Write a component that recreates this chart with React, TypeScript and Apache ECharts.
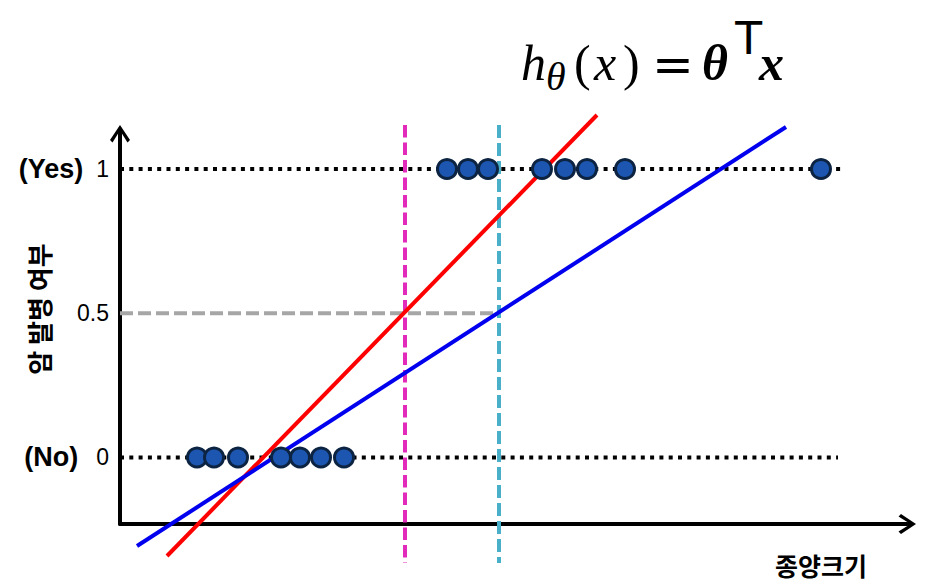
import React, { useEffect, useRef } from "react";
import * as echarts from "echarts";

// ---- data (x in arbitrary size units, y = probability of cancer) ----
const noX = [7.7, 9.4, 11.8, 16.1, 18.0, 20.1, 22.4];
const yesX = [32.7, 34.8, 36.8, 42.2, 44.5, 46.7, 50.5, 70.1];
const redLine = [[4.7, -0.3414], [47.7, 1.1872]];
const blueLine = [[1.7, -0.3068], [66.6, 1.1456]];
const pinkX = 28.5;
const cyanX = 37.9;
const vTop = 1.1525;
const vBottom = -0.3657;
const dottedYesEnd = 72.5;
const dottedNoEnd = 71.8;
const yTicks = [0, 0.5, 1];
const xMin = 0;
const xMax = 78.7;
const yMin = -0.2305;
const yMax = 1.1213;

const chevron =
  "path://M10,0 L20,15 L17.5,17.5 L10,5.5 L2.5,17.5 L0,15 Z M8.4,2 L11.6,2 L11.6,18 L8.4,18 Z";

const SANS = "'Liberation Sans', Arial, sans-serif";
const SERIF = "'Liberation Serif', 'DejaVu Serif', serif";

function glyph(text: string, x: number, y: number, size: number, style: string, weight: string, family: string) {
  return {
    type: "text",
    x,
    y,
    style: {
      text,
      fontSize: size,
      fontStyle: style,
      fontWeight: weight,
      fontFamily: family,
      fill: "#000",
      align: "left",
      verticalAlign: "middle",
    },
  };
}

export default function App() {
  const ref = useRef<HTMLDivElement>(null);
  useEffect(() => {
    if (!ref.current) return;
    const chart = echarts.init(ref.current, null, { renderer: "svg" });
    const option: any = {
      animation: false,
      backgroundColor: "#ffffff",
      grid: { left: 120, right: 24, top: 134, bottom: 58, containLabel: false },
      xAxis: {
        type: "value",
        min: xMin,
        max: xMax,
        axisLine: {
          show: true,
          onZero: false,
          symbol: ["none", chevron],
          symbolSize: [20, 18],
          lineStyle: { color: "#000", width: 4 },
        },
        axisTick: { show: false },
        axisLabel: { show: false },
        splitLine: { show: false },
      },
      yAxis: {
        type: "value",
        min: yMin,
        max: yMax,
        axisLine: {
          show: true,
          onZero: false,
          symbol: ["none", chevron],
          symbolSize: [20, 18],
          lineStyle: { color: "#000", width: 4 },
        },
        axisTick: { show: false },
        splitLine: { show: false },
        axisLabel: {
          show: true,
          customValues: yTicks,
          margin: 11,
          fontSize: 23,
          fontFamily: SANS,
          color: "#000",
          formatter: (v: number) => {
            if (v === 1) return "{b|(Yes)}{n|1}";
            if (v === 0) return "{c|(No)}{n|0}";
            return "{n|0.5}";
          },
          rich: {
            b: {
              fontFamily: SANS,
              fontWeight: "bold",
              fontSize: 27,
              color: "#000",
              padding: [0, 13, 0, 0],
            },
            c: {
              fontFamily: SANS,
              fontWeight: "bold",
              fontSize: 27,
              color: "#000",
              padding: [0, 18, 0, 0],
            },
            n: {
              fontFamily: SANS,
              fontSize: 23,
              color: "#000",
            },
          },
        },
      },
      series: [
        {
          type: "line",
          data: [[xMin, 1], [dottedYesEnd, 1]],
          symbol: "none",
          clip: false,
          z: 1,
          lineStyle: { color: "#000", width: 4, type: [4, 5.3] },
        },
        {
          type: "line",
          data: [[xMin, 0], [dottedNoEnd, 0]],
          symbol: "none",
          clip: false,
          z: 1,
          lineStyle: { color: "#000", width: 4, type: [4, 5.3] },
        },
        {
          type: "line",
          data: [[xMin, 0.5], [cyanX, 0.5]],
          symbol: "none",
          clip: false,
          z: 1,
          lineStyle: { color: "#a6a6a6", width: 4, type: [13, 5] },
        },
        {
          type: "line",
          data: [[pinkX, vTop], [pinkX, vBottom]],
          symbol: "none",
          clip: false,
          z: 2,
          lineStyle: { color: "#e22bbb", width: 4, type: [12.5, 5] },
        },
        {
          type: "line",
          data: [[cyanX, vTop], [cyanX, vBottom]],
          symbol: "none",
          clip: false,
          z: 2,
          lineStyle: { color: "#4aafc9", width: 4, type: [13, 5] },
        },
        {
          type: "line",
          data: redLine,
          symbol: "none",
          clip: false,
          z: 3,
          lineStyle: { color: "#ff0000", width: 4 },
        },
        {
          type: "line",
          data: blueLine,
          symbol: "none",
          clip: false,
          z: 3,
          lineStyle: { color: "#0000ee", width: 4 },
        },
        {
          type: "scatter",
          data: noX.map((x) => [x, 0]),
          symbol: "circle",
          symbolSize: 19,
          clip: false,
          z: 4,
          itemStyle: { color: "#1c56b0", borderColor: "#0c2442", borderWidth: 3, opacity: 1 },
        },
        {
          type: "scatter",
          data: yesX.map((x) => [x, 1]),
          symbol: "circle",
          symbolSize: 19,
          clip: false,
          z: 4,
          itemStyle: { color: "#1c56b0", borderColor: "#0c2442", borderWidth: 3, opacity: 1 },
        },
      ],
      graphic: [
        {
          type: "text",
          x: 38,
          y: 309,
          rotation: Math.PI / 2,
          style: {
            text: "암 발병 여부",
            fontFamily: "'Noto Sans CJK KR', sans-serif",
            fontWeight: "bold",
            fontSize: 26,
            fill: "#000",
            align: "center",
            verticalAlign: "middle",
          },
        },
        {
          type: "text",
          x: 821,
          y: 565,
          style: {
            text: "종양크기",
            fontFamily: "'Noto Sans CJK KR', sans-serif",
            fontWeight: "bold",
            fontSize: 25,
            fill: "#000",
            align: "center",
            verticalAlign: "middle",
          },
        },
        // formula h_θ(x) = θᵀx
        glyph("h", 521, 63, 50, "italic", "normal", SERIF),
        glyph("θ", 546, 76, 40, "italic", "normal", SERIF),
        glyph("(", 574, 63, 50, "normal", "normal", SERIF),
        glyph("x", 594, 63, 50, "italic", "normal", SERIF),
        glyph(")", 623, 63, 50, "normal", "normal", SERIF),
        glyph("=", 652, 65, 50, "normal", "normal", "'DejaVu Serif', serif"),
        glyph("θ", 702, 63, 50, "italic", "bold", SERIF),
        glyph("T", 734, 37, 48, "normal", "normal", SANS),
        glyph("x", 759, 63, 50, "italic", "bold", SERIF),
      ],
    };
    chart.setOption(option);
    return () => chart.dispose();
  }, []);
  return (
    <div
      ref={ref}
      style={{ position: "fixed", left: 0, top: 0, width: 931, height: 582, background: "#fff" }}
    />
  );
}
